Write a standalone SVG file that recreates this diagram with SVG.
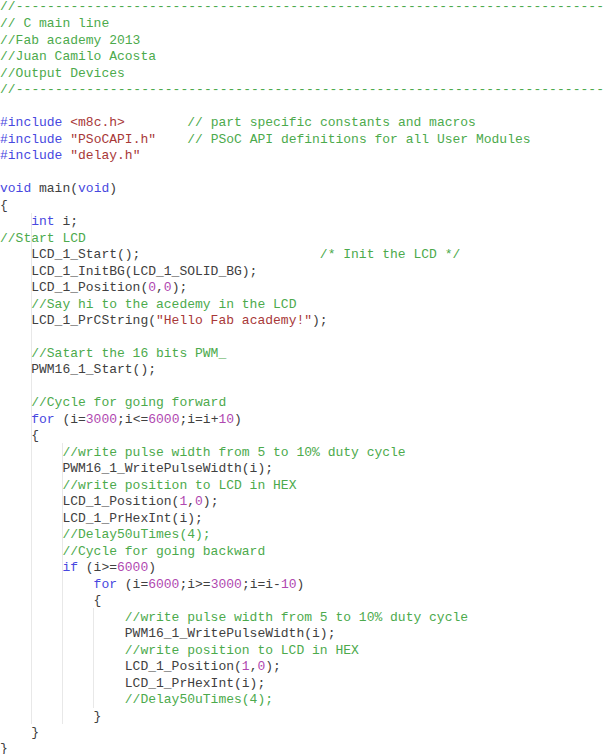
<svg xmlns="http://www.w3.org/2000/svg" width="604" height="754" viewBox="0 0 604 754">
<style>
text{font-family:"Liberation Mono","Courier New",monospace;font-size:13px;fill:#404040;white-space:pre}
.c{fill:#4caa4c}
.k{fill:#4848e0}
.s{fill:#a83838}
.n{fill:#b048b0}
.g{stroke:#e8e8e8;stroke-width:1}
</style>
<rect width="604" height="754" fill="#ffffff"/>
<g id="guides">
<line class="g" x1="31.5" y1="213" x2="31.5" y2="724"/>
<line class="g" x1="62.5" y1="443" x2="62.5" y2="724"/>
<line class="g" x1="93.5" y1="608" x2="93.5" y2="708"/>
</g>
<g id="code" xml:space="preserve">
<text x="0" y="10" class="c" textLength="604" lengthAdjust="spacing">//---------------------------------------------------------------------------</text>
<text x="0" y="27.3" class="c">// C main line</text>
<text x="0" y="43.8" class="c">//Fab academy 2013</text>
<text x="0" y="60.3" class="c">//Juan Camilo Acosta</text>
<text x="0" y="76.7" class="c">//Output Devices</text>
<text x="0" y="92.6" class="c" textLength="604" lengthAdjust="spacing">//---------------------------------------------------------------------------</text>
<text x="0" y="126.2"><tspan class="k">#include</tspan> <tspan class="s">&lt;m8c.h&gt;</tspan>        <tspan class="c">// part specific constants and macros</tspan></text>
<text x="0" y="142.7"><tspan class="k">#include</tspan> <tspan class="s">"PSoCAPI.h"</tspan>    <tspan class="c">// PSoC API definitions for all User Modules</tspan></text>
<text x="0" y="159.1"><tspan class="k">#include</tspan> <tspan class="s">"delay.h"</tspan></text>
<text x="0" y="192.1"><tspan class="k">void</tspan> main(<tspan class="k">void</tspan>)</text>
<text x="0" y="208.6">{</text>
<text x="31.2" y="225.1"><tspan class="k">int</tspan> i;</text>
<text x="0" y="241.6" class="c">//Start LCD</text>
<text x="31.2" y="258.0">LCD_1_Start();                       <tspan class="c">/* Init the LCD */</tspan></text>
<text x="31.2" y="274.5">LCD_1_InitBG(LCD_1_SOLID_BG);</text>
<text x="31.2" y="291.0">LCD_1_Position(<tspan class="n">0</tspan>,<tspan class="n">0</tspan>);</text>
<text x="31.2" y="307.5" class="c">//Say hi to the acedemy in the LCD</text>
<text x="31.2" y="324.0">LCD_1_PrCString(<tspan class="s">"Hello Fab academy!"</tspan>);</text>
<text x="31.2" y="356.9" class="c">//Satart the 16 bits PWM_</text>
<text x="31.2" y="373.4">PWM16_1_Start();</text>
<text x="31.2" y="406.4" class="c">//Cycle for going forward</text>
<text x="31.2" y="422.8"><tspan class="k">for</tspan> (i=<tspan class="n">3000</tspan>;i&lt;=<tspan class="n">6000</tspan>;i=i+<tspan class="n">10</tspan>)</text>
<text x="31.2" y="439.3">{</text>
<text x="62.4" y="455.8" class="c">//write pulse width from 5 to 10% duty cycle</text>
<text x="62.4" y="472.3">PWM16_1_WritePulseWidth(i);</text>
<text x="62.4" y="488.8" class="c">//write position to LCD in HEX</text>
<text x="62.4" y="505.2">LCD_1_Position(<tspan class="n">1</tspan>,<tspan class="n">0</tspan>);</text>
<text x="62.4" y="521.7">LCD_1_PrHexInt(i);</text>
<text x="62.4" y="538.2" class="c">//Delay50uTimes(4);</text>
<text x="62.4" y="554.7" class="c">//Cycle for going backward</text>
<text x="62.4" y="571.2"><tspan class="k">if</tspan> (i&gt;=<tspan class="n">6000</tspan>)</text>
<text x="93.6" y="587.6"><tspan class="k">for</tspan> (i=<tspan class="n">6000</tspan>;i&gt;=<tspan class="n">3000</tspan>;i=i-<tspan class="n">10</tspan>)</text>
<text x="93.6" y="604.1">{</text>
<text x="124.8" y="620.6" class="c">//write pulse width from 5 to 10% duty cycle</text>
<text x="124.8" y="637.1">PWM16_1_WritePulseWidth(i);</text>
<text x="124.8" y="653.6" class="c">//write position to LCD in HEX</text>
<text x="124.8" y="670.0">LCD_1_Position(<tspan class="n">1</tspan>,<tspan class="n">0</tspan>);</text>
<text x="124.8" y="686.5">LCD_1_PrHexInt(i);</text>
<text x="124.8" y="703.0" class="c">//Delay50uTimes(4);</text>
<text x="93.6" y="719.5">}</text>
<text x="31.2" y="736.0">}</text>
<text x="0" y="751.5">}</text>
</g>
</svg>
